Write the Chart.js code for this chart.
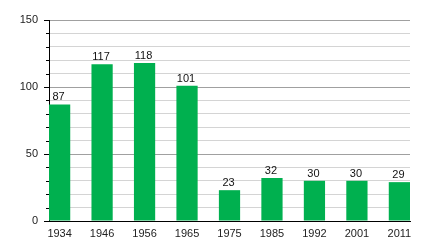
<!DOCTYPE html>
<html>
<head>
<meta charset="utf-8">
<script src="https://cdn.jsdelivr.net/npm/chart.js@4"></script>
<style>
  html, body { margin: 0; padding: 0; background: #fff; }
  #wrap { width: 440px; height: 240px; }
</style>
</head>
<body>
<div id="wrap"><canvas id="myChart" width="440" height="240"></canvas></div>
<script>
// data
var years = ['1934', '1946', '1956', '1965', '1975', '1985', '1992', '2001', '2011'];
var values = [87, 117, 118, 101, 23, 32, 30, 30, 29];
var yMax = 150;
var yStep = 10;
var yLabelEvery = 50;

var points = [];
for (let i = 0; i < values.length; i++) {
    points.push({ x: i, y: values[i] });
}

// value labels on top of the bars
var valueLabels = {
    id: 'valueLabels',
    afterDatasetsDraw: function (chart) {
        let ctx = chart.ctx;
        let meta = chart.getDatasetMeta(0);
        ctx.save();
        ctx.font = '11px "Liberation Sans", Arial, sans-serif';
        ctx.fillStyle = '#111';
        ctx.textAlign = 'center';
        ctx.textBaseline = 'alphabetic';
        meta.data.forEach(function (bar, i) {
            ctx.fillText(String(values[i]), bar.x - 1, bar.y - 4);
        });
        ctx.restore();
    }
};

// little tick marks left of the y axis, long ones at the labelled values
var yTicks = {
    id: 'yTicks',
    afterDraw: function (chart) {
        let ctx = chart.ctx;
        let y = chart.scales.y;
        ctx.save();
        ctx.strokeStyle = '#000';
        ctx.lineWidth = 1;
        y.ticks.forEach(function (t) {
            let py = Math.round(y.getPixelForValue(t.value)) + 0.5;
            let len = (t.value % yLabelEvery === 0) ? 5 : 3;
            ctx.beginPath();
            ctx.moveTo(y.right - len, py);
            ctx.lineTo(y.right, py);
            ctx.stroke();
        });
        ctx.restore();
    }
};

var ctx = document.getElementById('myChart').getContext('2d');
var chart = new Chart(ctx, {
    type: 'bar',
    data: {
        datasets: [{
            data: points,
            backgroundColor: '#00b04f',
            borderWidth: 0,
            categoryPercentage: 1,
            barPercentage: 0.5
        }]
    },
    options: {
        responsive: false,
        animation: false,
        layout: { padding: { top: 20, right: 30, left: 0, bottom: 0 } },
        plugins: {
            legend: { display: false },
            tooltip: { enabled: false }
        },
        scales: {
            x: {
                type: 'linear',
                offset: false,
                min: -0.25,
                max: values.length - 0.75,
                grid: { display: false, drawTicks: false },
                border: { display: true, color: '#000', width: 1 },
                afterFit: function (scale) { scale.height = 19; },
                ticks: {
                    stepSize: 1,
                    includeBounds: false,
                    autoSkip: false,
                    maxRotation: 0,
                    padding: 6,
                    color: '#222',
                    font: { family: '"Liberation Sans", Arial, sans-serif', size: 11 },
                    callback: function (v) { return years[v] !== undefined ? years[v] : ''; }
                }
            },
            y: {
                min: 0,
                max: yMax,
                grid: {
                    drawTicks: false,
                    color: function (c) {
                        return (c.tick && c.tick.value % yLabelEvery === 0) ? '#a0a0a0' : '#d4d4d4';
                    }
                },
                border: { display: true, color: '#000', width: 1 },
                afterFit: function (scale) { scale.width = 49; },
                ticks: {
                    stepSize: yStep,
                    autoSkip: false,
                    padding: 11,
                    color: '#222',
                    font: { family: '"Liberation Sans", Arial, sans-serif', size: 11 },
                    callback: function (v) { return v % yLabelEvery === 0 ? v : ''; }
                }
            }
        }
    },
    plugins: [valueLabels, yTicks]
});
</script>
</body>
</html>
